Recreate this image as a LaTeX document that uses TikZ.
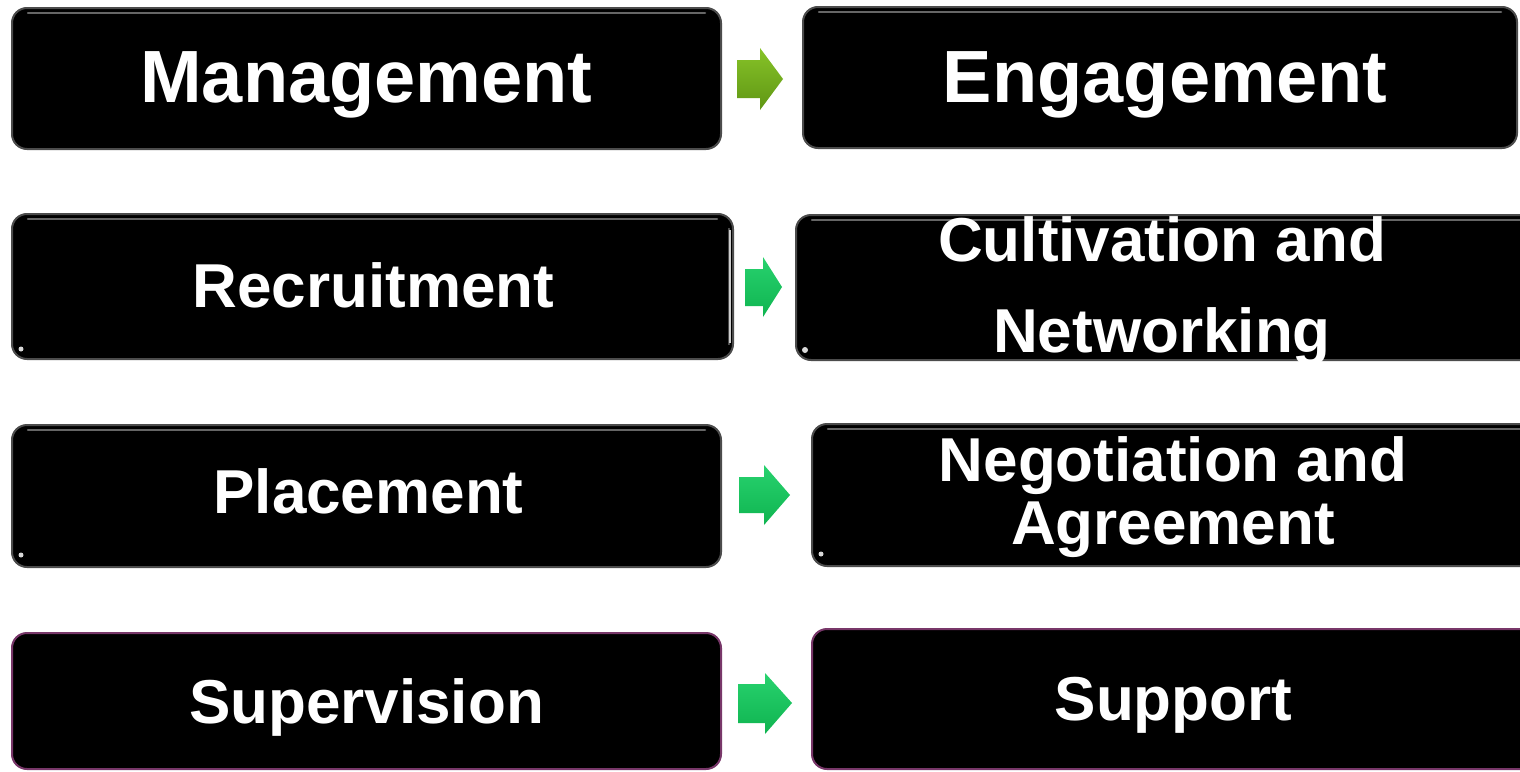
\documentclass[tikz,border=0pt]{standalone}
\usepackage{fontspec}
\setmainfont{Liberation Sans}
\definecolor{rimpurple}{RGB}{120,55,105}
\definecolor{olivetop}{RGB}{135,195,40}
\definecolor{olivebot}{RGB}{95,150,20}
\definecolor{greentop}{RGB}{40,210,110}
\definecolor{greenbot}{RGB}{15,180,80}
\begin{document}
\begin{tikzpicture}[x=1pt,y=-1pt,
  box/.style={draw=#1, line width=2pt, fill=black, rounded corners=15pt, inner sep=0pt, outer sep=0pt},
  box/.default={black!70},
  lblbig/.style={text=white, font=\fontsize{74}{74}\selectfont\bfseries, anchor=base, inner sep=0pt},
  lbl/.style={text=white, font=\fontsize{62}{62}\selectfont\bfseries, anchor=base, inner sep=0pt},
  rim/.style={draw=black!60, line width=2.5pt, line cap=round},
  shine/.style={fill=white!85!black},
  arrowY/.style={top color=olivetop, bottom color=olivebot, draw=none},
  arrowG/.style={top color=greentop, bottom color=greenbot, draw=none}
]
\useasboundingbox (0,0) rectangle (1520,771);
\fill[white] (0,0) rectangle (1520,771);

% boxes
\node[box, minimum width=709pt, minimum height=141pt] (L1) at (366.5,78.5) {};
\node[box, minimum width=714pt, minimum height=141pt] (R1) at (1160,77.5) {};
\node[box, minimum width=721pt, minimum height=145pt] (L2) at (372.5,286.5) {};
\node[box, minimum width=744pt, minimum height=145pt] (R2) at (1168,287.5) {};
\node[box, minimum width=709pt, minimum height=142pt] (L3) at (366.5,496) {};
\node[box, minimum width=728pt, minimum height=142pt] (R3) at (1176,495) {};
\node[box=rimpurple, minimum width=709pt, minimum height=136pt] (L4) at (366.5,701) {};
\node[box=rimpurple, minimum width=728pt, minimum height=140pt] (R4) at (1176,699) {};

% glossy rims
\draw[rim] ([shift={(16,5)}]L1.north west) -- ([shift={(-16,5)}]L1.north east);
\draw[rim] ([shift={(16,5)}]R1.north west) -- ([shift={(-16,5)}]R1.north east);
\draw[rim] ([shift={(16,5)}]L2.north west) -- ([shift={(-16,5)}]L2.north east);
\draw[rim] ([shift={(16,5)}]R2.north west) -- ([shift={(-16,5)}]R2.north east);
\draw[rim] ([shift={(16,5)}]L3.north west) -- ([shift={(-16,5)}]L3.north east);
\draw[rim] ([shift={(16,5)}]R3.north west) -- ([shift={(-16,5)}]R3.north east);
\draw[draw=black!40!gray, line width=2pt] ([shift={(-4,14)}]L2.north east) -- ([shift={(-4,-14)}]L2.south east);
\draw[white!80!black, line width=1.5pt] ([shift={(-3,16)}]L2.north east) -- ([shift={(-3,-16)}]L2.south east);
\fill[shine] ([shift={(9,-10)}]L2.south west) circle (2.5pt);
\fill[shine] ([shift={(9,-10)}]R2.south west) circle (3pt);
\fill[shine] ([shift={(9,-12)}]L3.south west) circle (2.5pt);
\fill[shine] ([shift={(9,-12)}]R3.south west) circle (2.5pt);

% labels
\node[lblbig] (tL1) at (366.5,102) {Management};
\node[lblbig] (tR1) at (1165,102) {Engagement};
\node[lbl] (tL2) at (373.5,307) {Recruitment};
\node[lbl] (tR2a) at (1162,261) {Cultivation and};
\node[lbl] (tR2b) at (1162,352) {Networking};
\node[lbl] (tL3) at (368.5,513) {Placement};
\node[lbl] (tR3a) at (1173,481) {Negotiation and};
\node[lbl] (tR3b) at (1173,544) {Agreement};
\node[lbl] (tL4) at (366.5,723) {Supervision};
\node[lbl] (tR4) at (1173.5,720) {Support};

% block arrows between boxes
\path[arrowY] (737,60) -- (760,60) -- (760,48) -- (783,79) -- (760,110) -- (760,98) -- (737,98) -- cycle;
\path[arrowG] (745,269) -- (763,269) -- (763,257) -- (782,287) -- (763,317) -- (763,306) -- (745,306) -- cycle;
\path[arrowG] (739,477) -- (764,477) -- (764,465) -- (790,495) -- (764,525) -- (764,513) -- (739,513) -- cycle;
\path[arrowG] (738,684) -- (765,684) -- (765,673) -- (792,703) -- (765,734) -- (765,723) -- (738,723) -- cycle;
\end{tikzpicture}
\end{document}
